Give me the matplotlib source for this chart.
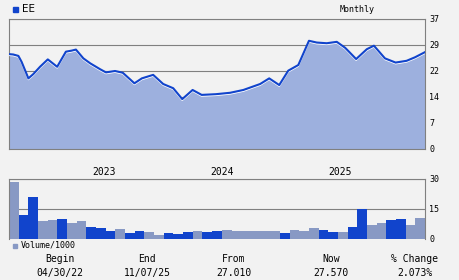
import pandas as pd
import matplotlib
matplotlib.use("Agg")
import matplotlib.pyplot as plt
import matplotlib.transforms as mtransforms

# price line (monthly chart of EE)
dates = ["2022-04-30", "2022-05-13", "2022-05-29", "2022-06-08", "2022-06-29",
         "2022-07-14", "2022-08-04", "2022-08-28", "2022-09-26", "2022-10-23",
         "2022-11-10", "2022-11-23", "2022-12-16", "2023-01-06", "2023-02-06",
         "2023-02-24", "2023-03-24", "2023-04-17", "2023-05-23", "2023-06-15",
         "2023-07-20", "2023-08-20", "2023-09-20", "2023-10-18", "2023-11-19",
         "2023-12-17", "2024-01-30", "2024-03-14", "2024-04-24", "2024-06-15",
         "2024-07-13", "2024-08-13", "2024-09-10", "2024-10-11", "2024-11-13",
         "2024-12-07", "2025-01-07", "2025-02-07", "2025-03-05", "2025-04-08",
         "2025-05-11", "2025-06-02", "2025-07-06", "2025-08-08", "2025-09-11",
         "2025-10-07", "2025-11-07"]
prices = [27.0, 26.9, 26.5, 24.8, 20.1, 21.3, 23.4, 25.5, 23.4, 27.7,
          28.0, 28.3, 25.8, 24.4, 22.7, 21.8, 22.2, 21.7, 18.7, 20.1,
          21.1, 18.5, 17.3, 14.2, 16.8, 15.4, 15.6, 16.0, 16.8, 18.5,
          20.1, 18.2, 22.3, 23.9, 30.8, 30.3, 30.1, 30.5, 28.8, 25.6,
          28.4, 29.4, 25.8, 24.6, 25.1, 26.1, 27.57]

# monthly volume (thousands), dark bars = up months
volume = [28.5, 12, 21, 9, 9.5, 10, 8, 9, 6, 5.5, 4, 5, 3, 4, 3.5, 2, 3, 2.5,
          3.5, 4, 3.5, 4, 4.5, 4, 4, 4, 4, 4, 3, 4.5, 4, 5.5, 4.5, 3.5, 3.5,
          6, 15, 7, 8, 9.5, 10, 7, 10.5]
up = [0, 1, 1, 0, 0, 1, 0, 0, 1, 1, 1, 0, 1, 1, 0, 0, 1, 1, 1, 0, 1, 1, 0,
      0, 0, 0, 0, 0, 1, 0, 0, 0, 1, 1, 0, 1, 1, 0, 0, 1, 1, 0, 0]

price_ticks = [0, 7.4, 14.8, 22.2, 29.6, 37]
price_labels = ["0", "7", "14", "22", "29", "37"]
year_labels = ["2023", "2024", "2025"]
year_pos = ["2023-02-17", "2024-02-17", "2025-02-17"]

summary = [("Begin", "04/30/22"), ("End", "11/07/25"), ("From", "27.010"),
           ("Now", "27.570"), ("% Change", "2.073%")]

bg = "#f2f2f2"
dark = "#1144cc"
light = "#8899c4"
fill = "#9db0de"
grey = "#808080"
mono = "DejaVu Sans Mono"

fig = plt.figure(figsize=(4.6, 2.8), dpi=100, facecolor=bg)

# price panel
ax = fig.add_axes([9 / 460, 131 / 280, 416 / 460, 130 / 280], facecolor=bg)
d = pd.to_datetime(dates)
ax.fill_between(d, prices, 0, color=fill, lw=0, zorder=2)
shift = mtransforms.offset_copy(ax.transData, fig=fig, x=0, y=-1.2, units="dots")
ax.plot(d, prices, color="white", lw=1.0, transform=shift, zorder=3)
ax.plot(d, prices, color=dark, lw=1.5, zorder=4)
ax.set_xlim(pd.Timestamp("2022-04-30"), pd.Timestamp("2025-11-07"))
ax.set_ylim(0, 37)
ax.set_yticks(price_ticks)
ax.set_yticklabels(price_labels)
ax.yaxis.tick_right()
ax.set_xticks(pd.to_datetime(year_pos))
ax.set_xticklabels(year_labels)
ax.tick_params(axis="y", length=0, pad=3, labelsize=6, labelfontfamily=mono)
ax.tick_params(axis="x", length=0, pad=13, labelsize=7, labelfontfamily=mono)
ax.grid(axis="y", color=grey, lw=0.8, zorder=1)
ax.set_axisbelow(True)
for s in ax.spines.values():
    s.set_color(grey)
    s.set_linewidth(0.8)

# volume panel
av = fig.add_axes([9 / 460, 41 / 280, 416 / 460, 60 / 280], facecolor=bg)
cols = [dark if u else light for u in up]
av.bar(range(len(volume)), volume, width=1, align="edge", color=cols, lw=0, zorder=2)
av.set_xlim(0, len(volume))
av.set_ylim(0, 30)
av.set_yticks([0, 15, 30])
av.yaxis.tick_right()
av.set_xticks([])
av.tick_params(axis="y", length=0, pad=3, labelsize=6, labelfontfamily=mono)
av.grid(axis="y", color=grey, lw=0.8, zorder=1)
av.set_axisbelow(True)
for s in av.spines.values():
    s.set_color(grey)
    s.set_linewidth(0.8)
av.spines["bottom"].set_visible(False)

# legends / titles
fig.patches.append(plt.Rectangle((13 / 460, 1 - 12 / 280), 5 / 460, 5 / 280,
                                 transform=fig.transFigure, color=dark))
fig.text(22 / 460, 1 - 9.5 / 280, "EE", fontsize=7.5, va="center")
fig.text(357 / 460, 1 - 9 / 280, "Monthly", fontsize=6, family=mono,
         ha="center", va="center")
fig.patches.append(plt.Rectangle((13 / 460, 1 - 248 / 280), 4 / 460, 4 / 280,
                                 transform=fig.transFigure, color=light))
fig.text(21 / 460, 1 - 245.5 / 280, "Volume/1000", fontsize=6, family=mono,
         va="center")

# summary row
cx = [60, 147, 234, 331, 415]
for x, (head, val) in zip(cx, summary):
    fig.text(x / 460, 1 - 259 / 280, head, fontsize=7, family=mono,
             ha="center", va="center")
    fig.text(x / 460, 1 - 273 / 280, val, fontsize=7, family=mono,
             ha="center", va="center")

plt.savefig("out.png", dpi=100, facecolor=bg)
